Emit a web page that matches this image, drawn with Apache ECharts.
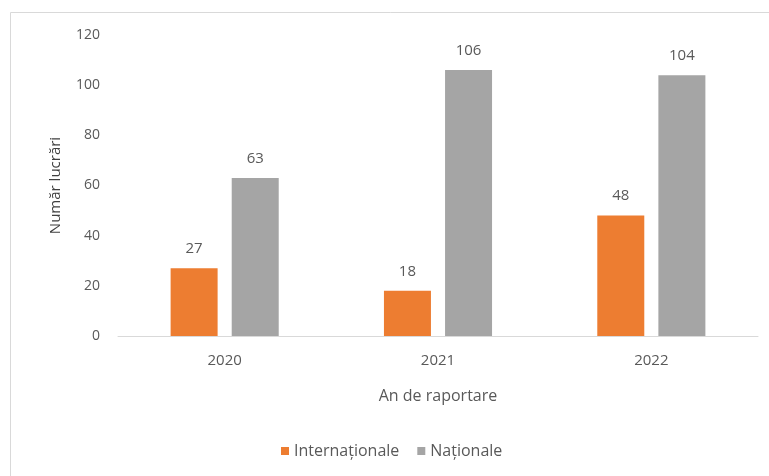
<!DOCTYPE html>
<html>
<head>
<meta charset="utf-8">
<script src="https://cdn.jsdelivr.net/npm/echarts@6/dist/echarts.min.js"></script>
<style>html,body{margin:0;padding:0;background:#fff}#c{width:769px;height:476px}</style>
</head>
<body>
<div id="c"></div>
<script>
const categories = ['2020', '2021', '2022'];
const international = [27, 18, 48];
const national = [63, 106, 104];
const seriesNames = ['Internaționale', 'Naționale'];
const yTicks = [0, 20, 40, 60, 80, 100, 120];

const chart = echarts.init(document.getElementById('c'));
const font = '"Open Sans", "Liberation Sans", sans-serif';
chart.setOption({
  animation: false,
  textStyle: { fontFamily: font },
  graphic: [{
    type: 'rect', shape: { x: 10.5, y: 12.5, width: 800, height: 500 },
    style: { fill: 'none', stroke: '#d9d9d9', lineWidth: 1 }, silent: true, z: -1
  }],
  grid: { left: 118, right: 11, top: 35, bottom: 140 },
  legend: {
    bottom: 12, left: 276, itemWidth: 8, itemHeight: 8, itemGap: 18,
    icon: 'rect',
    textStyle: { color: '#595959', fontSize: 16, fontFamily: font },
    data: seriesNames
  },
  xAxis: {
    type: 'category', data: categories,
    name: 'An de raportare', nameLocation: 'middle', nameGap: 52,
    nameTextStyle: { color: '#595959', fontSize: 16, fontFamily: font },
    axisLine: { lineStyle: { color: '#d9d9d9' } },
    axisTick: { show: false },
    axisLabel: { color: '#595959', fontSize: 15, margin: 17, fontFamily: font }
  },
  yAxis: {
    type: 'value', min: yTicks[0], max: yTicks[yTicks.length - 1], interval: 20,
    name: 'Număr lucrări', nameLocation: 'middle', nameGap: 55, nameRotate: 90,
    nameTextStyle: { color: '#404040', fontSize: 15, fontFamily: font },
    axisLine: { show: false }, axisTick: { show: false },
    splitLine: { show: false },
    axisLabel: { color: '#595959', fontSize: 14, margin: 18, fontFamily: font }
  },
  series: [
    {
      name: seriesNames[0], type: 'bar', data: international,
      barWidth: 47, barGap: '30%',
      itemStyle: { color: '#ED7D31' },
      label: { show: true, position: 'top', distance: 12, color: '#595959', fontSize: 15, fontFamily: font }
    },
    {
      name: seriesNames[1], type: 'bar', data: national,
      barWidth: 47, barGap: '30%',
      itemStyle: { color: '#A5A5A5' },
      label: { show: true, position: 'top', distance: 12, color: '#595959', fontSize: 15, fontFamily: font }
    }
  ]
});
</script>
</body>
</html>
